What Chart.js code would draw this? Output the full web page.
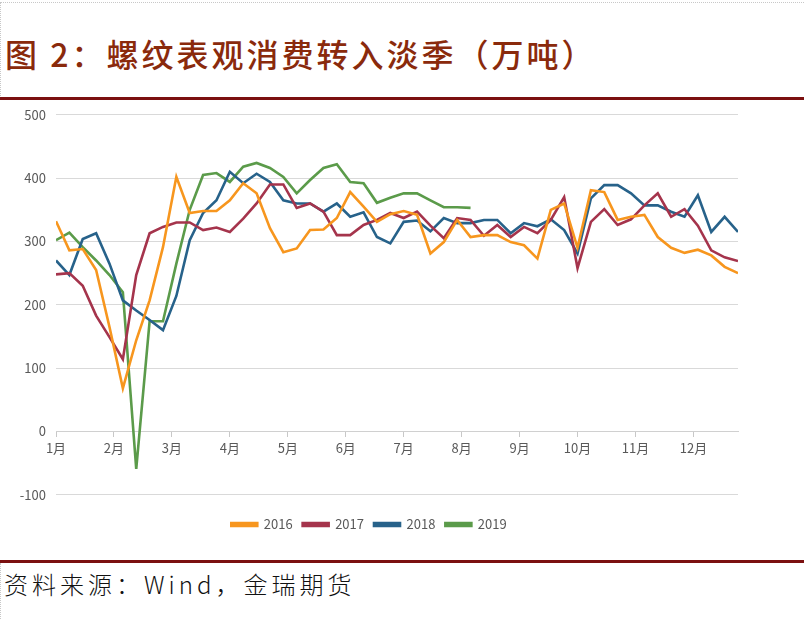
<!DOCTYPE html>
<html>
<head>
<meta charset="utf-8">
<script src="https://cdn.jsdelivr.net/npm/chart.js@4"></script>
<style>
  body { margin: 0; background: #fff; }
  #page { position: relative; width: 804px; height: 619px; overflow: hidden; background: #fff; }
  #title {
    position: absolute; left: 5px; top: 30px;
    font-family: "Noto Sans CJK SC", sans-serif; font-size: 32px; font-weight: 500;
    letter-spacing: 3px; color: #8a2a0c; white-space: nowrap;
  }
  .rule { position: absolute; left: 0; width: 804px; height: 3px; background: #7b1010; }
  #source {
    position: absolute; left: 4px; top: 566px;
    font-family: "Noto Sans CJK SC", sans-serif; font-size: 24px; font-weight: 300;
    letter-spacing: 4px; color: #111; white-space: nowrap;
  }
  #box { position: absolute; left: 0; top: 97px; width: 804px; height: 444px; }
  .dots-top { position: absolute; left: 0; top: 2px; width: 804px; border-top: 1px dotted #c8c8c8; }
  .dots-left { position: absolute; left: 0; width: 0; border-left: 1px dotted #c8c8c8; }
</style>
</head>
<body>
<div id="page">
  <div class="dots-top"></div>
  <div class="dots-left" style="top:2px;height:96px"></div>
  <div id="title">图 2：螺纹表观消费转入淡季（万吨）</div>
  <div class="rule" style="top:97px"></div>
  <div id="box"><canvas id="chart"></canvas></div>
  <div class="rule" style="top:560px"></div>
  <div class="dots-left" style="top:563px;height:56px"></div>
  <div id="source">资料来源：Wind，金瑞期货</div>
</div>
<script>
// weekly apparent consumption, one value per week from early January
const months = ['1月', '2月', '3月', '4月', '5月', '6月', '7月', '8月', '9月', '10月', '11月', '12月'];
const years = ['2016', '2017', '2018', '2019'];
const colors = ['#f7961e', '#a5344c', '#27628a', '#5b9b4a'];

const s2016 = [332, 286, 288, 255, 165, 68, 144, 207, 291, 402, 345, 348, 348, 365, 392, 376, 321, 283, 289, 318,
  319, 337, 378, 355, 331, 343, 348, 342, 281, 299, 334, 307, 310, 310, 299, 294, 273, 350, 360, 290,
  381, 378, 334, 339, 342, 307, 290, 282, 287, 278, 260, 250];
const s2017 = [248, 250, 230, 183, 149, 114, 247, 313, 323, 330, 330, 318, 322, 315, 336, 360, 390, 390, 353, 360,
  347, 310, 310, 326, 334, 345, 337, 347, 325, 305, 337, 334, 309, 326, 307, 323, 313, 334, 370, 258,
  331, 351, 326, 335, 357, 376, 339, 351, 325, 286, 275, 269];
const s2018 = [270, 247, 304, 313, 265, 207, 191, 176, 160, 214, 302, 345, 365, 410, 392, 407, 394, 365, 360, 360,
  347, 360, 339, 346, 307, 297, 331, 333, 316, 337, 329, 329, 334, 334, 313, 329, 324, 335, 318, 281,
  368, 389, 389, 376, 357, 357, 347, 339, 373, 315, 339, 315];
const s2019 = [302, 314, 291, 270, 247, 220, -59, 174, 174, 265, 350, 405, 408, 394, 418, 424, 416, 402, 376, 397,
  416, 422, 394, 392, 361, 369, 376, 376, 365, 354, 354, 353];
const yTicks = [-100, 0, 100, 200, 300, 400, 500];

const series = [s2016, s2017, s2018, s2019];
const weeksPerMonth = 52 / 12;

Chart.defaults.font.family = '"Noto Sans CJK SC", "Open Sans", sans-serif';
Chart.defaults.color = '#595959';

const chart = document.querySelector('#chart').getContext('2d');

new Chart(chart, {
  type: 'line',
  data: {
    datasets: series.map((vals, k) => ({
      label: years[k],
      data: vals.map((v, i) => ({ x: i, y: v })),
      borderColor: colors[k],
      backgroundColor: colors[k],
      borderWidth: 2.6,
      pointRadius: 0,
      tension: 0
    }))
  },
  options: {
    responsive: true,
    maintainAspectRatio: false,
    animation: false,
    layout: { padding: { top: 9, right: 66, left: 0, bottom: 0 } },
    plugins: {
      legend: {
        position: 'bottom',
        // empty title only used as a spacer above the legend items
        title: { display: true, text: '', font: { size: 1 }, padding: { top: 6, bottom: 6 } },
        labels: { boxWidth: 26, boxHeight: 3, padding: 10, color: '#595959', font: { size: 13 } }
      },
      tooltip: { enabled: false }
    },
    scales: {
      x: {
        type: 'linear',
        position: { y: 0 },
        min: 0,
        max: 51,
        afterBuildTicks: (scale) => {
          scale.ticks = months.map((m, i) => ({ value: i * weeksPerMonth }));
        },
        ticks: {
          autoSkip: false,
          maxRotation: 0,
          padding: 4,
          font: { size: 13 },
          callback: (value, index) => months[index]
        },
        grid: { drawOnChartArea: false, drawTicks: true, tickLength: 5, color: '#c8c8c8' },
        border: { display: true, color: '#d0d0d0' }
      },
      y: {
        min: -100,
        max: 500,
        afterBuildTicks: (scale) => {
          scale.ticks = yTicks.map(v => ({ value: v }));
        },
        afterFit: (scale) => { scale.width = 56; },
        ticks: { padding: 10, font: { size: 13 } },
        grid: { color: '#d9d9d9', drawTicks: false },
        border: { display: false }
      }
    }
  }
});
</script>
</body>
</html>
